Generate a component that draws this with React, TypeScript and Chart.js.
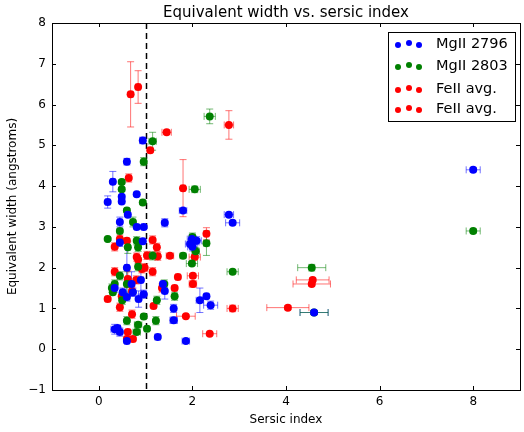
import React, { useEffect, useRef } from "react";
import { Chart, registerables } from "chart.js";
Chart.register(...registerables);

// ---------- data ----------
const blueX = [8.0, 2.78, 2.86, 1.8, 1.41, 0.94, 0.6, 0.3, 0.19, 0.49, 0.49, 0.81, 0.62, 0.45, 0.81, 0.96, 0.45, 0.6, 1.99, 2.09, 1.95, 2.0, 2.16, 2.3, 2.39, 1.6, 1.6, 1.26, 1.86, 1.41, 1.37, 0.34, 0.45, 0.4, 0.6, 0.51, 0.73, 0.96, 0.6, 0.85, 0.7, 4.6, 0.34, 0.9, 0.94];
const blueY = [4.4, 3.3, 3.1, 3.4, 3.1, 5.12, 4.6, 4.11, 3.61, 3.74, 3.62, 3.8, 3.3, 3.12, 3.0, 3.0, 2.62, 2.0, 2.7, 2.66, 2.58, 2.51, 1.2, 1.3, 1.08, 1.0, 0.71, 0.3, 0.2, 1.43, 1.6, 0.49, 0.42, 0.52, 0.2, 1.4, 1.4, 1.35, 1.28, 1.23, 1.6, 0.9, 1.5, 1.7, 2.65];
const blueXErr = [0.15, 0.1, 0.15, 0.08, 0.06, 0.06, 0.05, 0.05, 0.05, 0.04, 0.04, 0.04, 0.04, 0.05, 0.05, 0.05, 0.05, 0.05, 0.1, 0.1, 0.1, 0.1, 0.08, 0.05, 0.15, 0.05, 0.08, 0.06, 0.08, 0.06, 0.05, 0.08, 0.06, 0.06, 0.05, 0.05, 0.05, 0.05, 0.06, 0.05, 0.05, 0.3, 0.05, 0.05, 0.05];
const blueYErr = [0.05, 0.05, 0.05, 0.05, 0.1, 0.08, 0.08, 0.25, 0.15, 0.05, 0.05, 0.05, 0.05, 0.12, 0.05, 0.05, 0.1, 0.6, 0.1, 0.1, 0.05, 0.1, 0.3, 0.05, 0.1, 0.1, 0.08, 0.03, 0.03, 0.2, 0.05, 0.12, 0.1, 0.05, 0.05, 0.1, 0.1, 0.1, 0.1, 0.2, 0.3, 0.05, 0.1, 0.35, 0.05];

const greenX = [8.0, 2.37, 1.15, 0.96, 0.49, 0.49, 0.94, 0.6, 0.73, 2.05, 0.19, 0.45, 0.62, 0.81, 0.84, 1.15, 1.8, 1.99, 2.86, 2.3, 2.07, 2.0, 4.55, 4.6, 0.96, 0.6, 0.84, 0.81, 1.03, 1.24, 1.22, 1.62, 1.4, 0.28, 0.34, 0.45, 0.6, 0.84, 0.5, 0.3];
const greenY = [2.9, 5.71, 5.1, 4.6, 4.1, 3.92, 3.6, 3.4, 3.12, 3.92, 2.7, 2.9, 2.5, 2.66, 2.5, 2.29, 2.29, 2.1, 1.9, 2.6, 2.4, 2.75, 2.0, 0.9, 0.8, 0.7, 0.6, 0.42, 0.5, 1.2, 0.7, 1.3, 1.6, 1.5, 1.6, 1.8, 1.6, 2.02, 1.2, 1.4];
const greenXErr = [0.15, 0.12, 0.08, 0.05, 0.03, 0.03, 0.04, 0.05, 0.05, 0.12, 0.03, 0.05, 0.05, 0.05, 0.05, 0.05, 0.06, 0.12, 0.12, 0.06, 0.08, 0.06, 0.3, 0.3, 0.05, 0.05, 0.08, 0.08, 0.05, 0.05, 0.05, 0.05, 0.05, 0.05, 0.05, 0.05, 0.05, 0.05, 0.05, 0.05];
const greenYErr = [0.05, 0.18, 0.22, 0.1, 0.05, 0.05, 0.05, 0.05, 0.12, 0.08, 0.03, 0.05, 0.15, 0.1, 0.1, 0.1, 0.05, 0.05, 0.05, 0.3, 0.1, 0.1, 0.08, 0.05, 0.05, 0.1, 0.05, 0.05, 0.05, 0.1, 0.1, 0.1, 0.1, 0.1, 0.1, 0.1, 0.3, 0.1, 0.1, 0.05];

const red1X = [0.68, 0.84, 1.1, 1.45, 2.78, 0.64, 1.8, 0.45, 0.6, 0.34, 1.15, 1.24, 2.3, 0.81, 0.84, 1.03, 1.26, 1.52, 2.05, 0.92];
const red1Y = [6.25, 6.43, 4.88, 5.32, 5.5, 4.2, 3.95, 2.7, 2.66, 2.51, 2.68, 2.5, 2.83, 2.26, 2.2, 2.3, 2.28, 2.29, 2.26, 1.97];
const red1XErr = [0.05, 0.05, 0.05, 0.1, 0.1, 0.05, 0.05, 0.05, 0.05, 0.05, 0.05, 0.05, 0.05, 0.05, 0.05, 0.05, 0.05, 0.08, 0.12, 0.05];
const red1YErr = [0.8, 0.4, 0.05, 0.05, 0.35, 0.1, 0.7, 0.1, 0.05, 0.1, 0.1, 0.1, 0.15, 0.1, 0.1, 0.1, 0.1, 0.05, 0.05, 0.1];

const red2X = [0.98, 1.15, 0.34, 0.62, 1.69, 2.01, 2.01, 2.86, 2.37, 4.04, 4.57, 4.55, 1.86, 1.62, 1.17, 0.19, 0.45, 0.62, 0.73, 0.6, 0.71, 0.49, 0.71, 0.8, 1.35];
const red2Y = [2.0, 1.9, 1.9, 1.72, 1.77, 1.8, 1.6, 1.0, 0.38, 1.02, 1.7, 1.6, 0.81, 1.5, 1.06, 1.23, 1.03, 0.42, 0.25, 0.25, 0.86, 1.3, 1.43, 1.7, 1.5];
const red2XErr = [0.05, 0.05, 0.05, 0.05, 0.05, 0.12, 0.08, 0.12, 0.15, 0.45, 0.35, 0.4, 0.2, 0.05, 0.05, 0.05, 0.05, 0.05, 0.05, 0.05, 0.05, 0.05, 0.05, 0.05, 0.05];
const red2YErr = [0.1, 0.1, 0.1, 0.2, 0.05, 0.05, 0.08, 0.08, 0.03, 0.05, 0.05, 0.05, 0.03, 0.05, 0.05, 0.05, 0.1, 0.05, 0.05, 0.05, 0.1, 0.05, 0.1, 0.1, 0.1];

const seriesNames = ["MgII 2796", "MgII 2803", "FeII avg.", "FeII avg."];
const seriesColors = ["#0000ff", "#008000", "#ff0000", "#ff0000"];
const errColors = ["rgba(0,0,255,0.55)", "rgba(0,128,0,0.55)", "rgba(255,0,0,0.55)", "rgba(255,0,0,0.55)"];

const xTickValues = [0, 2, 4, 6, 8];
const yTickValues = [-1, 0, 1, 2, 3, 4, 5, 6, 7, 8];
const dividerX = 1;

const titleText = "Equivalent width vs. sersic index";
const xLabel = "Sersic index";
const yLabel = "Equivalent width (angstroms)";

const FONT = "'DejaVu Sans', sans-serif";

const allX = [blueX, greenX, red1X, red2X];
const allY = [blueY, greenY, red1Y, red2Y];
const allXE = [blueXErr, greenXErr, red1XErr, red2XErr];
const allYE = [blueYErr, greenYErr, red1YErr, red2YErr];

const fmt = (v: number) => (v < 0 ? "\u2212" + Math.abs(v) : String(v));

const decorPlugin = {
  id: "decor",
  beforeDatasetsDraw(chart: any) {
    const { ctx, chartArea: a, scales } = chart;
    const x = scales.x, y = scales.y;
    ctx.save();
    ctx.beginPath();
    ctx.rect(a.left, a.top, a.right - a.left, a.bottom - a.top);
    ctx.clip();
    ctx.strokeStyle = "#000";
    ctx.lineWidth = 1.5;
    ctx.setLineDash([6, 4]);
    const dx = Math.round(x.getPixelForValue(dividerX)) + 0.5;
    ctx.beginPath();
    ctx.moveTo(dx, a.top);
    ctx.lineTo(dx, a.bottom);
    ctx.stroke();
    ctx.setLineDash([]);
    ctx.lineWidth = 1;
    allX.forEach((xs, si) => {
      ctx.strokeStyle = errColors[si];
      xs.forEach((xv, j) => {
        const yv = allY[si][j];
        const xe = allXE[si][j];
        const ye = allYE[si][j];
        const px = x.getPixelForValue(xv);
        const py = y.getPixelForValue(yv);
        const x0 = x.getPixelForValue(xv - xe);
        const x1 = x.getPixelForValue(xv + xe);
        const y0 = y.getPixelForValue(yv - ye);
        const y1 = y.getPixelForValue(yv + ye);
        const c = 3.5;
        ctx.beginPath();
        ctx.moveTo(x0, py); ctx.lineTo(x1, py);
        ctx.moveTo(x0, py - c); ctx.lineTo(x0, py + c);
        ctx.moveTo(x1, py - c); ctx.lineTo(x1, py + c);
        ctx.moveTo(px, y0); ctx.lineTo(px, y1);
        ctx.moveTo(px - c, y0); ctx.lineTo(px + c, y0);
        ctx.moveTo(px - c, y1); ctx.lineTo(px + c, y1);
        ctx.stroke();
      });
    });
    ctx.restore();
  },
  afterDraw(chart: any) {
    const { ctx, chartArea: a, scales } = chart;
    const x = scales.x, y = scales.y;
    ctx.save();
    ctx.strokeStyle = "#000";
    ctx.lineWidth = 1;
    ctx.strokeRect(Math.round(a.left) + 0.5, Math.round(a.top) + 0.5, Math.round(a.right - a.left), Math.round(a.bottom - a.top));
    const tl = 4;
    ctx.beginPath();
    xTickValues.forEach((v) => {
      const px = Math.round(x.getPixelForValue(v)) + 0.5;
      ctx.moveTo(px, a.bottom); ctx.lineTo(px, a.bottom - tl);
      ctx.moveTo(px, a.top); ctx.lineTo(px, a.top + tl);
    });
    yTickValues.forEach((v) => {
      const py = Math.round(y.getPixelForValue(v)) + 0.5;
      ctx.moveTo(a.left, py); ctx.lineTo(a.left + tl, py);
      ctx.moveTo(a.right, py); ctx.lineTo(a.right - tl, py);
    });
    ctx.stroke();
    ctx.fillStyle = "#000";
    ctx.font = `15px ${FONT}`;
    ctx.textAlign = "center";
    ctx.textBaseline = "middle";
    ctx.fillText(titleText, (a.left + a.right) / 2, 13);
    ctx.font = `12px ${FONT}`;
    ctx.fillText(xLabel, (a.left + a.right) / 2, 420);
    ctx.save();
    ctx.translate(13, (a.top + a.bottom) / 2);
    ctx.rotate(-Math.PI / 2);
    ctx.fillText(yLabel, 0, 0);
    ctx.restore();
    const lx = 388, ly = 32, lw = 127, lh = 89;
    ctx.fillStyle = "#fff";
    ctx.fillRect(lx, ly, lw, lh);
    ctx.strokeStyle = "#000";
    ctx.strokeRect(lx + 0.5, ly + 0.5, lw, lh);
    const rowY = [44, 66, 89, 109];
    const dotX = [398, 409, 419];
    const dotDy = [1, -1, 1];
    seriesNames.forEach((name, i) => {
      ctx.fillStyle = seriesColors[i];
      dotX.forEach((dxp, k) => {
        ctx.beginPath();
        ctx.arc(dxp, rowY[i] + dotDy[k], 3, 0, Math.PI * 2);
        ctx.fill();
      });
      ctx.fillStyle = "#000";
      ctx.font = `14.5px ${FONT}`;
      ctx.textAlign = "left";
      ctx.textBaseline = "middle";
      ctx.fillText(name, 436, rowY[i]);
    });
    ctx.restore();
  },
};

export default function App() {
  const ref = useRef<HTMLCanvasElement | null>(null);
  useEffect(() => {
    document.body.style.margin = "0";
    const canvas = ref.current!;
    const datasets = seriesNames.map((name, i) => ({
      label: name,
      data: allX[i].map((xv, j) => ({ x: xv, y: allY[i][j] })),
      backgroundColor: seriesColors[i],
      borderColor: seriesColors[i],
      pointRadius: 4,
      pointBorderWidth: 0,
      showLine: false,
    }));
    const chart = new Chart(canvas, {
      type: "scatter",
      data: { datasets },
      options: {
        responsive: false,
        animation: false,
        layout: { padding: { top: 23, right: 4, left: 0, bottom: 0 } },
        plugins: { legend: { display: false }, tooltip: { enabled: false }, title: { display: false } },
        scales: {
          x: {
            type: "linear",
            min: -1,
            max: 9,
            grid: { display: false, drawTicks: false },
            border: { display: false },
            afterFit: (s: any) => { s.height = 42; },
            afterBuildTicks: (s: any) => { s.ticks = xTickValues.map((v) => ({ value: v })); },
            ticks: {
              autoSkip: false,
              maxRotation: 0,
              padding: 5,
              color: "#000",
              font: { family: FONT, size: 12 },
              callback: (v: any) => fmt(Number(v)),
            },
          },
          y: {
            type: "linear",
            min: -1,
            max: 8,
            grid: { display: false, drawTicks: false },
            border: { display: false },
            afterFit: (s: any) => { s.width = 52; },
            afterBuildTicks: (s: any) => { s.ticks = yTickValues.map((v) => ({ value: v })); },
            ticks: {
              autoSkip: false,
              padding: 6,
              color: "#000",
              font: { family: FONT, size: 12 },
              callback: (v: any) => fmt(Number(v)),
            },
          },
        },
      },
      plugins: [decorPlugin],
    });
    return () => chart.destroy();
  }, []);
  return <canvas ref={ref} width={524} height={432} style={{ display: "block" }} />;
}
